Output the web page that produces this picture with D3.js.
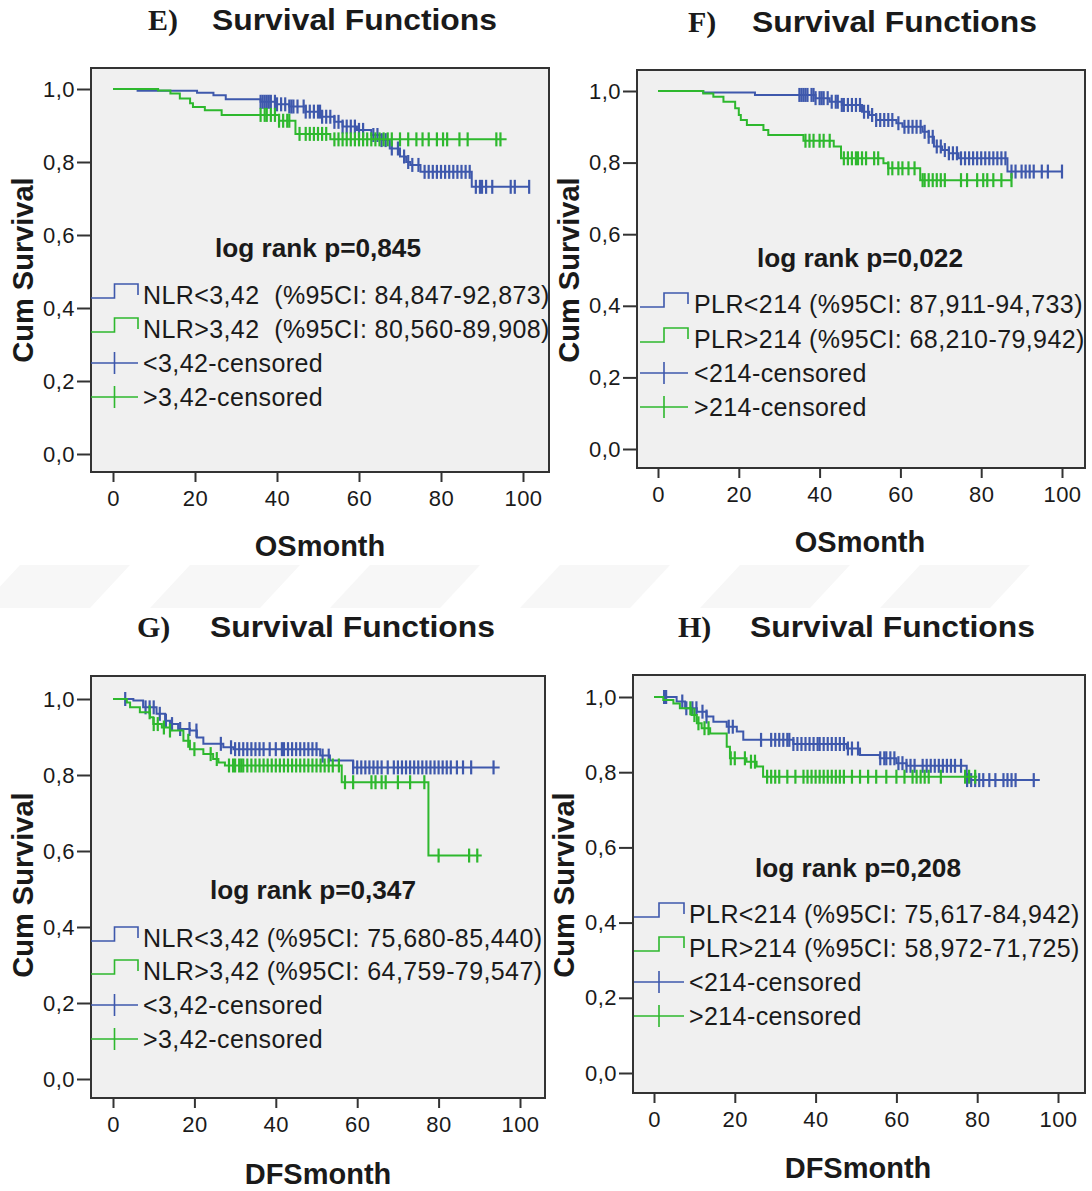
<!DOCTYPE html>
<html>
<head>
<meta charset="utf-8">
<script src="https://cdn.jsdelivr.net/npm/d3@7"></script>
<style>
  body { margin: 0; background: #fff; }
  svg text { font-family: "Liberation Sans", Arial, sans-serif; fill: #1a1a1a; }
</style>
</head>
<body>
<svg id="chart" width="1092" height="1191"></svg>
<script>
// ---- data ----
var xTicks = [0, 20, 40, 60, 80, 100];
var yTicks = [0, 0.2, 0.4, 0.6, 0.8, 1.0];

// E) OS by NLR
var eLowSteps = [[0,1],[6,.995],[20.5,.99],[24.5,.983],[27.5,.972],[36,.965],[40,.958],[43,.952],[47,.938],[51,.924],[54,.91],[56,.897],[59.5,.888],[63,.874],[65.5,.86],[67.5,.837],[70,.815],[71.5,.8],[72.5,.792],[75,.773],[87.5,.732]];
var eLowEnd = 101.7;
var eLowCens = [36,36.5,37,37.5,38,38.5,39.5,40,41,42,43,43.5,44,45,46.5,47,48,49,50,50.5,51,52,53,54,55,56,57,58,59,60,61,63.5,64.5,65.5,66.5,68,69.5,71,72,73,74.5,76,77,78,79,80,81,82,83,84,85,86,87,88.5,89.5,90,91,92.5,97,98,101.5];
var eHighSteps = [[0,1],[11,.996],[14,.988],[16.3,.974],[18.8,.961],[19.5,.951],[22.4,.942],[26.5,.929],[40.5,.913],[44.5,.877],[53,.862]];
var eHighEnd = 96;
var eHighCens = [36,37,37.5,38.5,39.5,40.5,41.5,42.5,43,45.5,47,48,49,50,51,52,54,55,56,57,58,59,60,61,62,63,64,65,66,67,68,70,72,74,75.5,77,79,80.5,81.5,84.5,86.5,93.5,94.5];
var eLegend = ["NLR<3,42  (%95CI: 84,847-92,873)", "NLR>3,42  (%95CI: 80,560-89,908)", "<3,42-censored", ">3,42-censored"];

// F) OS by PLR
var fLowSteps = [[0,1],[11.2,.996],[24,.989],[39,.98],[42.5,.97],[45.5,.961],[50.5,.942],[52.3,.933],[54,.919],[59,.91],[60.5,.9],[65.5,.886],[67,.872],[68.3,.845],[70.3,.835],[72,.826],[74.4,.812],[86.5,.775]];
var fLowEnd = 100;
var fLowCens = [35,35.5,36,36.5,37,38,38.5,39,40,40.5,41,42,43,44,44.5,45.5,46,47,48,49,50,51,52,53,54,55,56,57,58,59.5,61,62,63,64,65,66,67,68,69,70,71,72,73,74,75,76,77,78,79,80,81,82,83,84,85,86,87.5,88.5,90,91,92,93,95,96.5,100];
var fHighSteps = [[0,1],[11.2,.993],[13.7,.984],[16.2,.97],[19.1,.952],[20,.933],[20.5,.919],[22,.905],[26.1,.891],[27.3,.877],[36,.861],[43.5,.845],[45.3,.812],[55.8,.798],[57,.784],[64.9,.751]];
var fHighEnd = 87.5;
var fHighCens = [36.5,37.5,38.5,40,41,42.5,46,47,48,49,49.5,50.5,51.5,53.5,54.5,57,58,59.5,60.5,62,63.5,65.5,66,67,68,69,70,71,75,76.5,79,80.5,81.5,83,85,87.5];
var fLegend = ["PLR<214 (%95CI: 87,911-94,733)", "PLR>214 (%95CI: 68,210-79,942)", "<214-censored", ">214-censored"];

// G) DFS by NLR
var gLowSteps = [[0,1],[5,.996],[7.4,.978],[10.7,.961],[12.8,.943],[14,.934],[16,.921],[18.9,.917],[20.6,.899],[22.2,.882],[27.1,.873],[29.6,.868],[50.9,.851],[53.3,.838],[59,.82]];
var gLowEnd = 95;
var gLowCens = [3,8,9,10,11.5,13,14.5,16.5,18.8,20.5,26.5,29,30,31,32,33,34,35,36,37,38.5,40,41.5,42,43,44,45,46,47,48,49,50,51.5,53,59,60,61,62,63,64,65,66,67.5,69,70,71,72,73,74,75,76,77,78,79,80,81,82,83,84.5,86,88,93.5];
var gHighSteps = [[0,1],[3.4,.991],[4.2,.978],[6.6,.965],[9.1,.952],[9.9,.934],[12,.925],[14,.917],[17.3,.89],[18.9,.868],[22.2,.855],[24.6,.842],[25.9,.833],[27.5,.825],[56.2,.781],[77.5,.588]];
var gHighEnd = 90.6;
var gHighCens = [9,10,11,12.5,14,18.5,20,24,25.5,28.5,29.5,30,31,31.5,32,33,34,35,36,37,38,39,40,41,42,43,44,45,46,47,48,49,50,51,52,53,54,55.5,57,59,63.5,64.5,66,67,70,73,76.5,80,87.5,89.5];
var gLegend = ["NLR<3,42 (%95CI: 75,680-85,440)", "NLR>3,42 (%95CI: 64,759-79,547)", "<3,42-censored", ">3,42-censored"];

// H) DFS by PLR
var hLowSteps = [[0,1],[5.6,.988],[7.7,.97],[10.6,.961],[13,.948],[14.7,.934],[18,.921],[20.5,.908],[22.1,.886],[34.5,.875],[47.7,.863],[51,.846],[55.9,.837],[60,.824],[62.5,.817],[77.4,.779]];
var hLowEnd = 95.5;
var hLowCens = [2.5,3,7,8,9.5,10.5,12,13,18.5,19.5,26.5,29,30,31,32,33,33.5,34.5,35.5,36.5,37.5,38.5,39.5,40.5,41,42,43,44,45,46,47,48,49,50.5,56,57,57.5,58.5,59.5,60.5,61.5,62.5,63.5,64.5,66.5,67.5,68.5,69.5,70.5,71.5,72.5,73.5,74.5,76,77.5,78.5,79.5,80.5,81.5,83,84.5,86.5,87.5,88.5,89.5,94];
var hHighSteps = [[0,1],[2.3,.992],[4.8,.983],[6.4,.97],[9.3,.952],[10.6,.93],[11.8,.917],[13.9,.903],[18,.868],[18.8,.837],[22.9,.828],[25.4,.815],[27,.788]];
var hHighEnd = 80;
var hHighCens = [9,10,11,12.5,13.5,19,20,22.5,24,25,28,29,30,31,33,35,37,38,39,40,41,42,43,44,45,46,47,49,51,53,55,57.5,60,62,64,65,66,67,68,71,77,78,79.5];
var hLegend = ["PLR<214 (%95CI: 75,617-84,942)", "PLR>214 (%95CI: 58,972-71,725)", "<214-censored", ">214-censored"];

var blue = "#3e58ac", green = "#2eb82e";

var panels = [
  { letter: "E)", letterX: 148, sfX: 212, titleY: 30,
    frame: [91, 68, 549, 472], xr: [113, 523], yr: [454, 89],
    xLabel: "OSmonth", xLabelX: 320, xLabelY: 556, yLabelX: 33, yLabelY: 270,
    logrank: "log rank p=0,845", lrX: 318, lrY: 257,
    legX0: 91, legX1: 138, legTextX: 143, legY: [304, 338, 372, 406], legend: eLegend,
    groups: [{ steps: eLowSteps, end: eLowEnd, cens: eLowCens, color: blue },
             { steps: eHighSteps, end: eHighEnd, cens: eHighCens, color: green }] },
  { letter: "F)", letterX: 688, sfX: 752, titleY: 32,
    frame: [637, 70, 1085, 468], xr: [658, 1062], yr: [449, 91],
    xLabel: "OSmonth", xLabelX: 860, xLabelY: 552, yLabelX: 579, yLabelY: 270,
    logrank: "log rank p=0,022", lrX: 860, lrY: 267,
    legX0: 640, legX1: 688, legTextX: 694, legY: [313, 348, 382, 416], legend: fLegend,
    groups: [{ steps: fLowSteps, end: fLowEnd, cens: fLowCens, color: blue },
             { steps: fHighSteps, end: fHighEnd, cens: fHighCens, color: green }] },
  { letter: "G)", letterX: 137, sfX: 210, titleY: 637,
    frame: [91, 676, 545, 1098], xr: [113, 520], yr: [1079, 699],
    xLabel: "DFSmonth", xLabelX: 318, xLabelY: 1184, yLabelX: 33, yLabelY: 885,
    logrank: "log rank p=0,347", lrX: 313, lrY: 899,
    legX0: 91, legX1: 138, legTextX: 143, legY: [947, 980, 1014, 1048], legend: gLegend,
    groups: [{ steps: gLowSteps, end: gLowEnd, cens: gLowCens, color: blue },
             { steps: gHighSteps, end: gHighEnd, cens: gHighCens, color: green }] },
  { letter: "H)", letterX: 678, sfX: 750, titleY: 637,
    frame: [633, 675, 1085, 1093], xr: [654, 1058], yr: [1073, 697],
    xLabel: "DFSmonth", xLabelX: 858, xLabelY: 1178, yLabelX: 574, yLabelY: 885,
    logrank: "log rank p=0,208", lrX: 858, lrY: 877,
    legX0: 634, legX1: 684, legTextX: 689, legY: [923, 957, 991, 1025], legend: hLegend,
    groups: [{ steps: hLowSteps, end: hLowEnd, cens: hLowCens, color: blue },
             { steps: hHighSteps, end: hHighEnd, cens: hHighCens, color: green }] }
];

var svg = d3.select("#chart");

// faint watermark bands between the two rows
var bands = [[-20, 0], [150, 0], [330, 0], [520, 0], [700, 0], [880, 0]];
svg.append("g").selectAll("path")
  .data(bands)
  .enter().append("path")
  .attr("d", function (d) { return "M" + (d[0] + 40) + ",565 L" + (d[0] + 150) + ",565 L" + (d[0] + 110) + ",608 L" + d[0] + ",608 Z"; })
  .attr("fill", "#f7f7f7");

var commaFmt = function (v) { return d3.format(".1f")(v).replace(".", ","); };
var bis = d3.bisector(function (d) { return d[0]; }).right;

panels.forEach(function (p) {
  var g = svg.append("g");
  var x = d3.scaleLinear().domain([0, 100]).range(p.xr);
  var y = d3.scaleLinear().domain([0, 1]).range(p.yr);
  var f = p.frame;

  // title
  g.append("text").attr("x", p.letterX).attr("y", p.titleY)
    .style("font-family", "'Liberation Serif', 'Times New Roman', serif")
    .style("font-weight", "bold").style("font-size", "30px").text(p.letter);
  g.append("text").attr("x", p.sfX).attr("y", p.titleY)
    .attr("textLength", 285).attr("lengthAdjust", "spacingAndGlyphs")
    .style("font-weight", "bold").style("font-size", "30px").text("Survival Functions");

  // plot background + frame
  g.append("rect").attr("x", f[0]).attr("y", f[1])
    .attr("width", f[2] - f[0]).attr("height", f[3] - f[1])
    .attr("fill", "#f0f0f0").attr("stroke", "#333").attr("stroke-width", 2);

  // axes
  var yAxis = g.append("g").attr("transform", "translate(" + f[0] + ",0)")
    .call(d3.axisLeft(y).tickValues(yTicks).tickFormat(commaFmt).tickSize(14).tickSizeOuter(0).tickPadding(2));
  var xAxis = g.append("g").attr("transform", "translate(0," + f[3] + ")")
    .call(d3.axisBottom(x).tickValues(xTicks).tickFormat(d3.format("d")).tickSize(10).tickSizeOuter(0).tickPadding(8));
  [yAxis, xAxis].forEach(function (a) {
    a.select(".domain").remove();
    a.selectAll(".tick line").attr("stroke", "#333").attr("stroke-width", 2);
    a.selectAll(".tick text").attr("fill", "#222")
      .style("font-family", "'Liberation Sans', Arial, sans-serif").style("font-size", "22px")
      .style("letter-spacing", "0.5px");
  });

  // axis titles
  g.append("text").attr("x", p.xLabelX).attr("y", p.xLabelY).attr("text-anchor", "middle")
    .style("font-weight", "bold").style("font-size", "29px").text(p.xLabel);
  g.append("text").attr("transform", "translate(" + p.yLabelX + "," + p.yLabelY + ") rotate(-90)")
    .attr("text-anchor", "middle")
    .style("font-weight", "bold").style("font-size", "29px").text("Cum Survival");

  // survival curves
  var line = d3.line().curve(d3.curveStepAfter)
    .x(function (d) { return x(d[0]); })
    .y(function (d) { return y(d[1]); });
  p.groups.forEach(function (grp) {
    var pts = grp.steps.concat([[grp.end, grp.steps[grp.steps.length - 1][1]]]);
    g.append("path").attr("d", line(pts)).attr("fill", "none")
      .attr("stroke", grp.color).attr("stroke-width", 2);
    g.append("g").selectAll("line")
      .data(grp.cens)
      .enter().append("line")
      .attr("x1", function (d) { return x(d); })
      .attr("x2", function (d) { return x(d); })
      .attr("y1", function (d) { return y(grp.steps[bis(grp.steps, d) - 1][1]) - 7; })
      .attr("y2", function (d) { return y(grp.steps[bis(grp.steps, d) - 1][1]) + 7; })
      .attr("stroke", grp.color).attr("stroke-width", 2.2);
  });

  // log rank text
  g.append("text").attr("x", p.lrX).attr("y", p.lrY).attr("text-anchor", "middle")
    .attr("textLength", 206).attr("lengthAdjust", "spacingAndGlyphs")
    .style("font-weight", "bold").style("font-size", "26px").text(p.logrank);

  // legend
  var colors = [blue, green, blue, green];
  p.legend.forEach(function (label, i) {
    var b = p.legY[i];
    var xm = (p.legX0 + p.legX1) / 2;
    if (i < 2) {
      g.append("path")
        .attr("d", "M" + p.legX0 + "," + (b - 6) + "H" + xm + "V" + (b - 20) + "H" + p.legX1 + "V" + (b - 9))
        .attr("fill", "none").attr("stroke", colors[i]).attr("stroke-width", 1.6);
    } else {
      g.append("line").attr("x1", p.legX0).attr("x2", p.legX1)
        .attr("y1", b - 9).attr("y2", b - 9).attr("stroke", colors[i]).attr("stroke-width", 1.6);
      g.append("line").attr("x1", xm).attr("x2", xm)
        .attr("y1", b - 20).attr("y2", b + 2).attr("stroke", colors[i]).attr("stroke-width", 1.6);
    }
    g.append("text").attr("x", p.legTextX).attr("y", b)
      .style("font-size", "25px").style("letter-spacing", "0.4px")
      .style("white-space", "pre").text(label);
  });
});
</script>
</body>
</html>
